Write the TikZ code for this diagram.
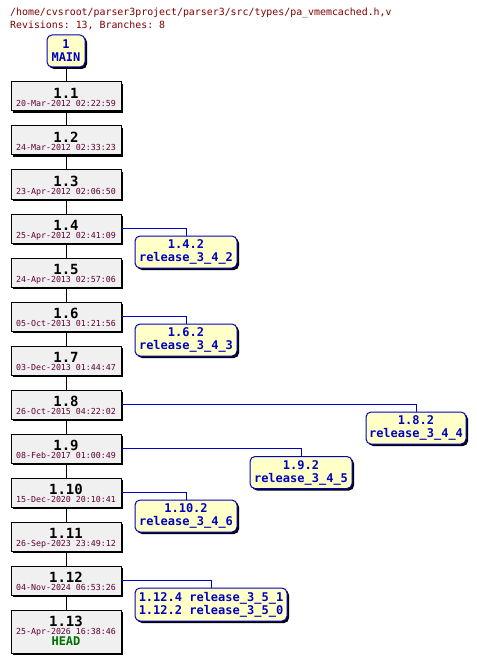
\documentclass[tikz,border=0pt]{standalone}
\usepackage{fontspec}
\setmonofont{DejaVu Sans Mono}
\usepackage{xcolor}
\usetikzlibrary{positioning,calc,shadows}

\definecolor{hdrred}{HTML}{800000}
\definecolor{datered}{HTML}{600030}
\definecolor{brblue}{HTML}{0000C0}
\definecolor{brfill}{HTML}{FFFFC8}
\definecolor{trfill}{HTML}{F0F0F0}
\definecolor{headgreen}{HTML}{007000}

\tikzset{
  boxshadow/.style={drop shadow={shadow xshift=2pt, shadow yshift=-2pt, fill=black, opacity=1}},
  trunkbox/.style={draw=black, fill=trfill, line width=1pt, minimum width=110pt, minimum height=29pt, inner sep=0pt, boxshadow},
  branchbox/.style={draw=brblue, fill=brfill, line width=1pt, rounded corners=5pt, inner xsep=3pt, inner ysep=3pt,
    align=center, text=brblue, font=\ttfamily\bfseries\fontsize{12}{13}\selectfont, boxshadow},
  revlabel/.style={anchor=base, inner sep=0pt, font=\ttfamily\bfseries\fontsize{14}{14}\selectfont},
  datelabel/.style={anchor=base, inner sep=0pt, text=datered, font=\ttfamily\fontsize{8.3}{8.3}\selectfont},
  hdrlabel/.style={anchor=base west, inner sep=0pt, text=hdrred, font=\ttfamily\fontsize{9.9}{10}\selectfont},
  trunkline/.style={draw=black, line width=1pt},
  branchline/.style={draw=brblue, line width=1pt},
}

\begin{document}
\begin{tikzpicture}[x=1pt, y=-1pt]
  \useasboundingbox[fill=white] (0,0) rectangle (476,663);

  % Header
  \node[hdrlabel] (hdr1) at (10,16) {/home/cvsroot/parser3project/parser3/src/types/pa\_vmemcached.h,v};
  \node[hdrlabel] (hdr2) at (10,29) {Revisions: 13, Branches: 8};

  % Main branch box
  \node[branchbox, minimum width=38pt, minimum height=32pt, inner xsep=1pt] (main) at (66,51) {1\\MAIN};

  % Trunk revisions
  \foreach \n/\d in {1/20-Mar-2012 02:22:59, 2/24-Mar-2012 02:33:23, 3/23-Apr-2012 02:06:50,
      4/25-Apr-2012 02:41:09, 5/24-Apr-2013 02:57:06, 6/05-Oct-2013 01:21:56,
      7/03-Dec-2013 01:44:47, 8/26-Oct-2015 04:22:02, 9/08-Feb-2017 01:00:49,
      10/15-Dec-2020 20:10:41, 11/26-Sep-2023 23:49:12, 12/04-Nov-2024 06:53:26} {
    \node[trunkbox] (r\n) at (66, {96.5+(\n-1)*44}) {};
    \node[revlabel] (r\n-rev) at ($(r\n.north)+(0,17)$) {1.\n};
    \node[datelabel] (r\n-date) at ($(r\n.north)+(0,25)$) {\d};
  }
  \node[trunkbox, minimum height=43pt] (r13) at (66,631.5) {};
  \node[revlabel] (r13-rev) at ($(r13.north)+(0,17)$) {1.13};
  \node[datelabel] (r13-date) at ($(r13.north)+(0,25)$) {25-Apr-2026 16:38:46};
  \node[revlabel, text=headgreen, font=\ttfamily\bfseries\fontsize{12}{12}\selectfont] (r13-head) at ($(r13.north)+(0,36)$) {HEAD};

  % Trunk connectors
  \draw[trunkline] (main) -- (r1);
  \foreach \a [evaluate=\a as \b using int(\a+1)] in {1,...,12} {
    \draw[trunkline] (r\a) -- (r\b);
  }

  % Branches
  \node[branchbox, minimum width=102pt, minimum height=32pt] (b142) at (186,252) {1.4.2\\release\_3\_4\_2};
  \node[branchbox, minimum width=102pt, minimum height=32pt] (b162) at (186,340) {1.6.2\\release\_3\_4\_3};
  \node[branchbox, minimum width=100pt, minimum height=32pt] (b182) at (416,428) {1.8.2\\release\_3\_4\_4};
  \node[branchbox, minimum width=102pt, minimum height=32pt] (b192) at (301,472.5) {1.9.2\\release\_3\_4\_5};
  \node[branchbox, minimum width=102pt, minimum height=32pt] (b1102) at (186,516) {1.10.2\\release\_3\_4\_6};
  \node[branchbox, minimum width=152pt, minimum height=33pt] (b1124) at (211,604.5) {1.12.4 release\_3\_5\_1\\1.12.2 release\_3\_5\_0};

  % Branch connectors
  \draw[branchline] (r4.east) -| (b142.north);
  \draw[branchline] (r6.east) -| (b162.north);
  \draw[branchline] (r8.east) -| (b182.north);
  \draw[branchline] (r9.east) -| (b192.north);
  \draw[branchline] (r10.east) -| (b1102.north);
  \draw[branchline] (r12.east) -| (b1124.north);
\end{tikzpicture}
\end{document}
